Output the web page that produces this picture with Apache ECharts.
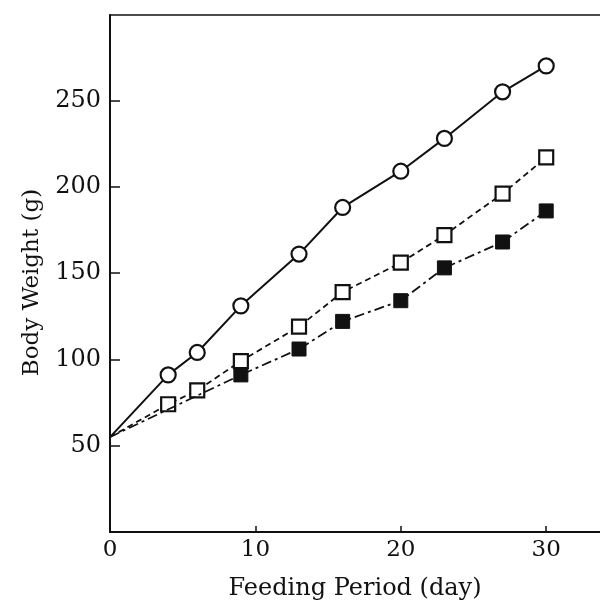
<!DOCTYPE html>
<html>
<head>
<meta charset="utf-8">
<script src="https://cdn.jsdelivr.net/npm/echarts@6/dist/echarts.min.js"></script>
<style>html,body{margin:0;padding:0;background:#fff;}#c{width:600px;height:601px;}</style>
</head>
<body>
<div id="c"></div>
<script>
var daysCircle = [0, 4, 6, 9, 13, 16, 20, 23, 27, 30];
var weightCircle = [55, 91, 104, 131, 161, 188, 209, 228, 255, 270];
var daysOpen = [0, 4, 6, 9, 13, 16, 20, 23, 27, 30];
var weightOpen = [55, 74, 82, 99, 119, 139, 156, 172, 196, 217];
var daysFilled = [0, 9, 13, 16, 20, 23, 27, 30];
var weightFilled = [55, 91, 106, 122, 134, 153, 168, 186];
var xTicks = [0, 10, 20, 30];
var yTicks = [50, 100, 150, 200, 250];

function pts(xs, ys) {
  return xs.map(function (x, i) {
    var d = { value: [x, ys[i]] };
    if (x === 0) d.symbol = 'none';
    return d;
  });
}

var chart = echarts.init(document.getElementById('c'));
var font = 'DejaVu Serif';
chart.setOption({
  animation: false,
  backgroundColor: '#fff',
  grid: { left: 110, right: 0, top: 15, bottom: 69, outerBoundsMode: 'none', containLabel: false },
  xAxis: [{
    type: 'value', min: 0, max: 33.7, interval: 10,
    name: 'Feeding Period (day)', nameLocation: 'middle', nameGap: 45,
    nameTextStyle: { fontFamily: font, fontSize: 24, color: '#111' },
    axisLine: { lineStyle: { color: '#111', width: 2 } },
    axisTick: { inside: true, length: 6, customValues: xTicks, lineStyle: { color: '#111', width: 1.5 } },
    axisLabel: { fontFamily: font, fontSize: 23, color: '#111', margin: 7, customValues: xTicks,
      formatter: function (v) { return xTicks.indexOf(v) >= 0 ? String(v) : ''; } },
    splitLine: { show: false }
  }, {
    type: 'value', position: 'top', min: 0, max: 33.7,
    axisLine: { show: true, onZero: false, lineStyle: { color: '#111', width: 1.5 } },
    axisTick: { show: false }, axisLabel: { show: false }, splitLine: { show: false }
  }],
  yAxis: {
    type: 'value', min: 0, max: 299.5, interval: 50,
    name: 'Body Weight (g)', nameLocation: 'middle', nameGap: 66, nameRotate: 90,
    nameTextStyle: { fontFamily: font, fontSize: 23, color: '#111', padding: [0, 18, 0, 0] },
    axisLine: { show: true, lineStyle: { color: '#111', width: 2 } },
    axisTick: { inside: true, length: 10, customValues: yTicks, lineStyle: { color: '#111', width: 1.5 } },
    axisLabel: { fontFamily: font, fontSize: 24, color: '#111', margin: 9, customValues: yTicks,
      formatter: function (v) { return yTicks.indexOf(v) >= 0 ? String(v) : ''; } },
    splitLine: { show: false }
  },
  series: [{
    type: 'line', data: pts(daysCircle, weightCircle),
    symbol: 'circle', symbolSize: 15, showAllSymbol: true,
    lineStyle: { color: '#111', width: 2, type: 'solid' },
    itemStyle: { color: '#fff', borderColor: '#111', borderWidth: 2.2 },
    z: 3
  }, {
    type: 'line', data: pts(daysOpen, weightOpen),
    symbol: 'rect', symbolSize: 14, showAllSymbol: true,
    lineStyle: { color: '#111', width: 1.8, type: [6, 4] },
    itemStyle: { color: '#fff', borderColor: '#111', borderWidth: 2.2 },
    z: 4
  }, {
    type: 'line', data: pts(daysFilled, weightFilled),
    symbol: 'rect', symbolSize: 14, showAllSymbol: true,
    lineStyle: { color: '#111', width: 1.8, type: [10, 4, 3, 4] },
    itemStyle: { color: '#111', borderColor: '#111', borderWidth: 1 },
    z: 5
  }]
});
</script>
</body>
</html>
